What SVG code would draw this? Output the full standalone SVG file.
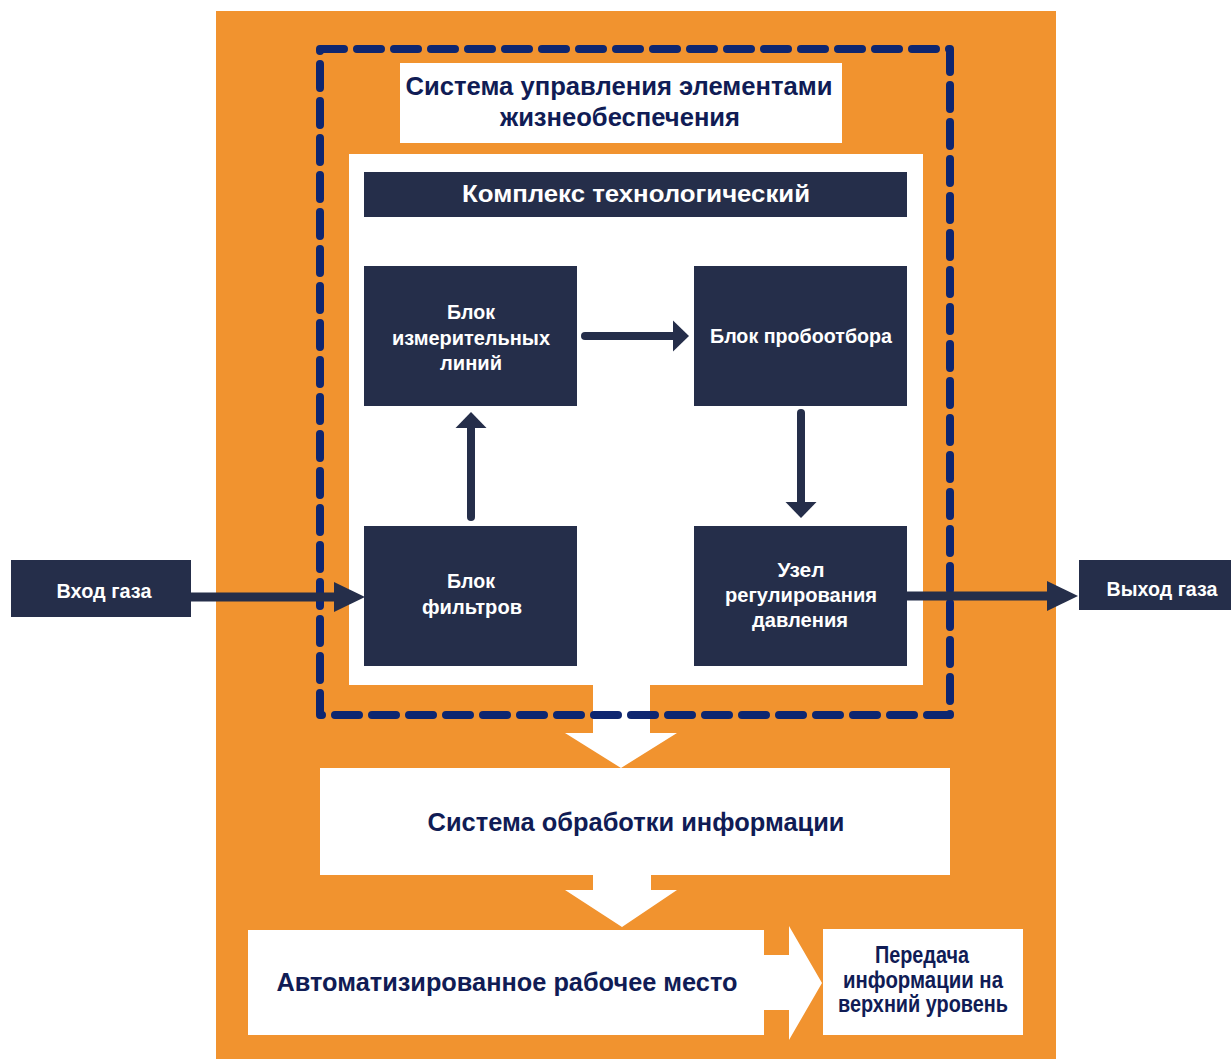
<svg xmlns="http://www.w3.org/2000/svg" width="1231" height="1059" viewBox="0 0 1231 1059">
  <style>
    .orange { fill: #f1932f; }
    .white { fill: #ffffff; }
    .node { fill: #252e4a; }
    .dash { fill: none; stroke: #0e2670; stroke-width: 8; stroke-dasharray: 24 13; stroke-linecap: round; stroke-linejoin: round; }
    .conn { fill: none; stroke: #252e4a; stroke-width: 8; stroke-linecap: round; }
    .connw { fill: none; stroke: #252e4a; stroke-width: 9; stroke-linecap: butt; }
    text { font-family: "Liberation Sans", Arial, sans-serif; font-weight: bold; text-anchor: middle; }
    .wt { fill: #ffffff; font-size: 20px; }
    .nt { fill: #101c55; }
  </style>
  <defs>
    <marker id="headS" markerUnits="userSpaceOnUse" markerWidth="20" markerHeight="34" refX="0" refY="16" orient="auto" viewBox="0 0 20 34">
      <path d="M0,0.5 L16,16 L0,31.5 Z" fill="#252e4a"/>
    </marker>
    <marker id="headL" markerUnits="userSpaceOnUse" markerWidth="34" markerHeight="32" refX="0" refY="15" orient="auto" viewBox="0 0 34 32">
      <path d="M0,0 L31,15 L0,30 Z" fill="#252e4a"/>
    </marker>
  </defs>

  <rect id="background" x="216" y="11" width="840" height="1048" class="orange"/>

  <g id="title">
    <rect x="400" y="63" width="442" height="80" class="white"/>
    <text class="nt" x="619" y="95" font-size="25" textLength="427" lengthAdjust="spacingAndGlyphs">Система управления элементами</text>
    <text class="nt" x="620" y="126" font-size="25" textLength="240" lengthAdjust="spacingAndGlyphs">жизнеобеспечения</text>
  </g>

  <g id="complex-panel">
    <rect x="349" y="154" width="574" height="531" class="white"/>
  </g>

  <g id="arrow-down-1">
    <polygon points="593,680 650,680 650,733 677,733 621,768 565,733 593,733" class="white"/>
  </g>

  <g id="control-system-border">
    <rect x="320" y="49" width="630" height="666" class="dash"/>
  </g>

  <g id="complex-header">
    <rect x="364" y="172" width="543" height="45" class="node"/>
    <text class="wt" x="636" y="202" font-size="24" style="font-size:24px" textLength="348" lengthAdjust="spacingAndGlyphs">Комплекс технологический</text>
  </g>

  <g id="measuring-lines">
    <rect x="364" y="266" width="213" height="140" class="node"/>
    <text class="wt" x="471" y="319" textLength="48" lengthAdjust="spacingAndGlyphs">Блок</text>
    <text class="wt" x="471" y="345" textLength="158" lengthAdjust="spacingAndGlyphs">измерительных</text>
    <text class="wt" x="471" y="370" textLength="62" lengthAdjust="spacingAndGlyphs">линий</text>
  </g>

  <g id="sampling">
    <rect x="694" y="266" width="213" height="140" class="node"/>
    <text class="wt" x="801" y="343" textLength="182" lengthAdjust="spacingAndGlyphs">Блок пробоотбора</text>
  </g>

  <g id="filters">
    <rect x="364" y="526" width="213" height="140" class="node"/>
    <text class="wt" x="471" y="588" textLength="48" lengthAdjust="spacingAndGlyphs">Блок</text>
    <text class="wt" x="472" y="614" textLength="100" lengthAdjust="spacingAndGlyphs">фильтров</text>
  </g>

  <g id="pressure-regulator">
    <rect x="694" y="526" width="213" height="140" class="node"/>
    <text class="wt" x="801" y="577" textLength="47" lengthAdjust="spacingAndGlyphs">Узел</text>
    <text class="wt" x="801" y="602" textLength="152" lengthAdjust="spacingAndGlyphs">регулирования</text>
    <text class="wt" x="800" y="627" textLength="96" lengthAdjust="spacingAndGlyphs">давления</text>
  </g>

  <g id="gas-in">
    <rect x="11" y="560" width="180" height="57" class="node"/>
    <text class="wt" x="104" y="598" textLength="95" lengthAdjust="spacingAndGlyphs">Вход газа</text>
  </g>

  <g id="gas-out">
    <rect x="1079" y="560" width="152" height="50" class="node"/>
    <text class="wt" x="1162" y="596" textLength="111" lengthAdjust="spacingAndGlyphs">Выход газа</text>
  </g>

  <g id="processing">
    <rect x="320" y="768" width="630" height="107" class="white"/>
    <text class="nt" x="636" y="831" font-size="26" textLength="417" lengthAdjust="spacingAndGlyphs">Система обработки информации</text>
  </g>

  <g id="arrow-down-2">
    <polygon points="593,870 651,870 651,890 677,890 622,927 565,890 593,890" class="white"/>
  </g>

  <g id="workstation">
    <rect x="248" y="930" width="516" height="105" class="white"/>
    <text class="nt" x="507" y="991" font-size="26" textLength="461" lengthAdjust="spacingAndGlyphs">Автоматизированное рабочее место</text>
  </g>

  <g id="arrow-right">
    <polygon points="760,955 789,955 789,926 822,983 789,1040 789,1010 760,1010" class="white"/>
  </g>

  <g id="upper-level">
    <rect x="823" y="929" width="200" height="106" class="white"/>
    <text class="nt" x="922" y="963" font-size="23" textLength="94" lengthAdjust="spacingAndGlyphs">Передача</text>
    <text class="nt" x="923" y="988" font-size="23" textLength="160" lengthAdjust="spacingAndGlyphs">информации на</text>
    <text class="nt" x="923" y="1012" font-size="23" textLength="170" lengthAdjust="spacingAndGlyphs">верхний уровень</text>
  </g>

  <g id="connectors">
    <line x1="585" y1="336" x2="673" y2="336" class="conn" marker-end="url(#headS)"/>
    <line x1="471" y1="517" x2="471" y2="428" class="conn" marker-end="url(#headS)"/>
    <line x1="801" y1="413" x2="801" y2="502" class="conn" marker-end="url(#headS)"/>
    <line x1="191" y1="597" x2="334" y2="597" class="connw" marker-end="url(#headL)"/>
    <line x1="907" y1="596" x2="1047" y2="596" class="connw" marker-end="url(#headL)"/>
  </g>
</svg>
